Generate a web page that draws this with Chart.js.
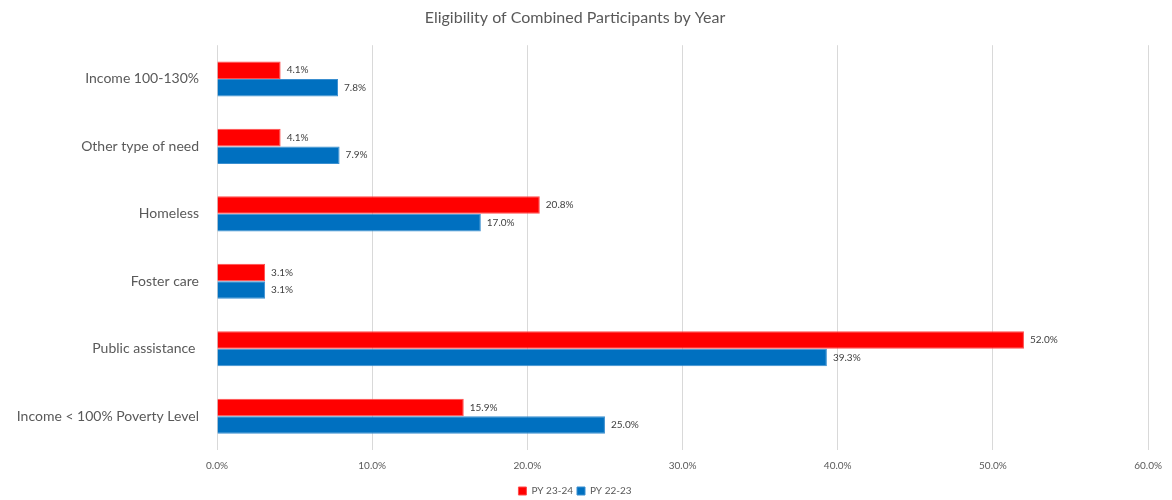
<!DOCTYPE html>
<html>
<head>
<meta charset="utf-8">
<title>Eligibility of Combined Participants by Year</title>
<script src="https://cdn.jsdelivr.net/npm/chart.js@4"></script>
<style>
  body { margin: 0; background: #fff; }
  #wrap { width: 1172px; height: 500px; }
</style>
</head>
<body>
<div id="wrap"><canvas id="myChart"></canvas></div>
<script>
'use strict';

// categories, top to bottom
let categories = ['Income 100-130%', 'Other type of need', 'Homeless', 'Foster care', 'Public assistance ', 'Income < 100% Poverty Level'];
// percent values per program year
let py2324 = [4.1, 4.1, 20.8, 3.1, 52.0, 15.9];
let py2223 = [7.8, 7.9, 17.0, 3.1, 39.3, 25.0];
let xTicks = [0, 10, 20, 30, 40, 50, 60];

let fontFamily = 'Lato, "Open Sans", sans-serif';

// writes the value just past the end of each bar
let valueLabels = {
  id: 'valueLabels',
  afterDatasetsDraw(chart) {
    let ctx = chart.ctx;
    ctx.save();
    ctx.font = '10px ' + fontFamily;
    ctx.fillStyle = '#404040';
    ctx.textBaseline = 'middle';
    ctx.textAlign = 'left';
    chart.data.datasets.forEach((ds, i) => {
      chart.getDatasetMeta(i).data.forEach((bar, j) => {
        ctx.fillText(ds.data[j].toFixed(1) + '%', bar.x + 6, bar.y);
      });
    });
    ctx.restore();
  }
};

let chartObject = {
  type: 'bar',
  data: {
    labels: categories,
    datasets: [{
      label: 'PY 23-24',
      data: py2324,
      backgroundColor: '#ff0000',
      borderColor: '#ff4d4d',
      borderWidth: 1,
      categoryPercentage: 0.52,
      barPercentage: 1.0
    },
    {
      label: 'PY 22-23',
      data: py2223,
      backgroundColor: '#0070c0',
      borderColor: '#3a8fd0',
      borderWidth: 1,
      categoryPercentage: 0.52,
      barPercentage: 1.0
    }]
  },
  options: {
    indexAxis: 'y',
    responsive: true,
    maintainAspectRatio: false,
    animation: false,
    layout: { padding: { left: 0, right: 22, top: 8, bottom: -6 } },
    scales: {
      x: {
        min: 0,
        max: 60,
        afterBuildTicks(scale) {
          scale.ticks = xTicks.map(v => ({ value: v }));
        },
        grid: { color: '#d9d9d9', drawTicks: false },
        border: { display: false },
        ticks: {
          padding: 10,
          color: '#595959',
          font: { size: 10, family: fontFamily },
          callback: v => v.toFixed(1) + '%'
        }
      },
      y: {
        afterFit(scale) { scale.width = 217; },
        grid: { display: false },
        border: { display: false },
        ticks: {
          padding: 10,
          color: '#595959',
          font: { size: 14, family: fontFamily }
        }
      }
    },
    plugins: {
      title: {
        display: true,
        text: 'Eligibility of Combined Participants by Year',
        color: '#595959',
        font: { size: 16, weight: 'normal', family: fontFamily },
        padding: { top: 0, bottom: 18 }
      },
      legend: {
        position: 'bottom',
        labels: {
          color: '#595959',
          font: { size: 10, family: fontFamily },
          boxWidth: 8,
          boxHeight: 8,
          padding: 4
        }
      },
      tooltip: { enabled: false }
    }
  },
  plugins: [valueLabels]
};

let ctx = document.getElementById('myChart').getContext('2d');
let myChart = new Chart(ctx, chartObject);
</script>
</body>
</html>
